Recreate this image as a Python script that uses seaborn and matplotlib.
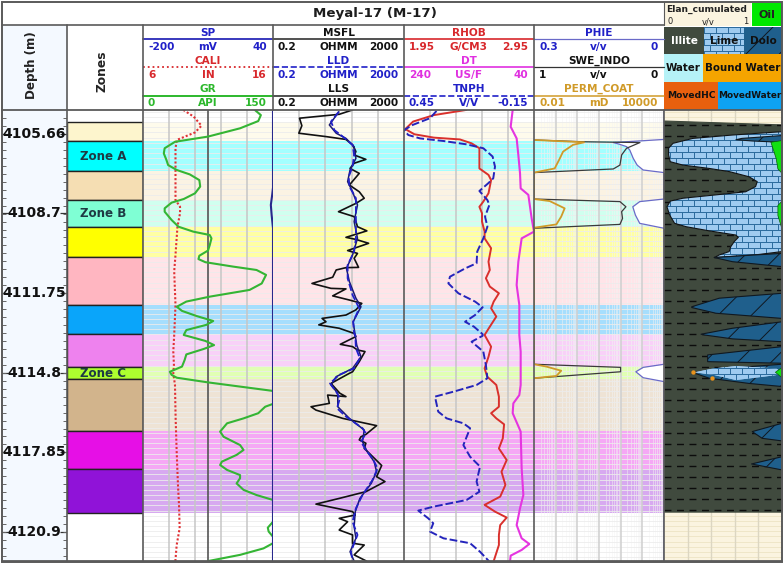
import numpy as np
import matplotlib
matplotlib.use("Agg")
import matplotlib.pyplot as plt
from matplotlib.lines import Line2D
from matplotlib.patches import Rectangle
import seaborn as sns

# ---------- data ----------
ZONE_TOPS = [4105.20, 4105.93, 4107.09, 4108.21, 4109.25, 4110.41, 4112.26, 4113.38, 4114.66, 4115.12, 4117.13, 4118.59]
ZONE_BASES = [4105.93, 4107.09, 4108.21, 4109.25, 4110.41, 4112.26, 4113.38, 4114.66, 4115.12, 4117.13, 4118.59, 4120.29]
ZONE_COLORS = ["#fdf5cd", "#00ffff", "#f5deb3", "#7fffd4", "#ffff00", "#ffb6c1", "#0aa5fa", "#ee82ee",
               "#adff2f", "#d2b48c", "#e60fe6", "#9013d8"]
ZONE_NAMES = ["", "Zone A", "", "Zone B", "", "", "", "", "Zone C", "", "", ""]
DEPTH_TICKS = [4105.66, 4108.7, 4111.75, 4114.8, 4117.85, 4120.9]
DEPTH_LABELS = ["4105.66", "4108.7", "4111.75", "4114.8", "4117.85", "4120.9"]

gr_d = [4104.73,4104.93,4105.16,4105.44,4105.76,4105.96,4106.21,4106.41,4106.66,4106.86,4107.05,4107.22,4107.44,4107.69,4107.95,4108.17,4108.31,4108.53,4108.66,4108.98,4109.24,4109.43,4109.56,4109.69,4109.95,4110.16,4110.36,4110.49,4110.61,4110.78,4110.91,4111.10,4111.43,4111.68,4111.94,4112.13,4112.33,4112.49,4112.69,4112.88,4113.03,4113.23,4113.42,4113.65,4113.81,4113.96,4114.17,4114.39,4114.64,4114.84,4114.96,4115.07,4115.25,4115.58,4115.84,4116.08,4116.19,4116.44,4116.64,4116.83,4117.15,4117.35,4117.67,4117.86,4118.05,4118.31,4118.44,4118.63,4118.83,4118.95,4119.15,4119.40,4119.60,4119.79,4120.18,4120.63,4120.86,4121.01,4121.21,4121.33,4121.46,4121.66,4121.91,4122.15]
gr_v = [129,136,133,112,75,37,25,24,27,29,39,54,65,66,60,47,33,25,25,33,41,58,77,79,77,75,65,64,72,104,131,142,137,123,77,50,39,45,62,81,73,50,47,72,82,70,50,48,45,31,33,39,75,150,165,150,141,133,116,97,89,93,112,116,108,91,89,97,112,112,108,116,131,150,175,150,144,145,150,175,150,139,112,75]
sp_d = [4104.73,4107.73,4108.01,4108.40,4108.79,4109.30,4122.15]
sp_v = [40,40,38.5,36,37.5,40,40]
cali_d = [4104.73,4104.99,4105.34,4105.60,4105.89,4106.21,4107.11,4108.21,4108.47,4108.72,4109.24,4110.33,4110.97,4112.26,4113.42,4114.06,4114.58,4114.90,4115.35,4116.64,4117.92,4118.57,4119.21,4119.98,4120.88,4121.53,4122.15]
cali_v = [9.1,9.9,10.5,10.0,8.6,8.5,8.5,8.5,8.85,8.85,8.65,8.5,8.4,8.5,8.4,8.33,8.38,8.33,8.46,8.51,8.59,8.64,8.69,8.77,8.82,8.59,8.49]

msfl_d = [4104.73,4104.90,4105.05,4105.34,4105.63,4105.76,4105.87,4106.08,4106.34,4106.47,4106.64,4106.79,4106.99,4107.18,4107.63,4107.89,4108.14,4108.34,4108.40,4108.66,4108.85,4109.04,4109.24,4109.40,4109.65,4109.73,4109.88,4110.16,4110.27,4110.46,4110.81,4110.82,4110.91,4111.19,4111.43,4111.62,4111.64,4111.91,4112.07,4112.20,4112.45,4112.65,4112.78,4112.91,4113.03,4113.16,4113.36,
          4113.48,4113.78,4113.87,4114.00,4114.06,4114.45,4114.84,4114.90,4115.29,4115.67,4115.80,4115.74,4116.06,4116.19,4116.32,4116.64,4116.92,4117.26,4117.35,4117.47,4117.60,4117.80,4117.99,4118.46,4118.89,4119.08,4119.47,4119.73,4119.95,4120.24,4120.37,4120.50,4120.63,4120.95,4121.14,4121.46,4121.53,4121.91,4122.15]
msfl_v = [53.8,21,1.29,1.52,1.23,8.3,33.8,53.8,68,60,137,60,45,86,43,86,122,68,53.8,20,60,68,76,147,33.8,68,166,38,76,60,82,33.8,17,13.3,3.1,11.8,33.8,13.3,43,103,68,33.8,6.3,8.3,5.0,21,60,
          68,22.7,53.8,76,129,86,53.8,43,11.8,22,33.8,9.3,10.5,2.9,4.1,27,291,137,97,86,137,122,175,416,291,525,137,21,4.1,53.8,65,21,38,21,53.8,53.8,122,60,143]
lld_d = [4104.80,4105.18,4105.51,4105.76,4106.08,4106.47,4106.92,4107.31,4107.69,4108.14,4108.92,4109.69,4110.20,4110.72,4111.23,4111.88,4112.39,4112.91,4113.36,
         4113.42,4113.93,4114.32,4114.71,4114.96,4115.29,4115.61,4115.87,4116.25,4116.57,4117.02,4117.22,4117.54,4117.86,4118.18,4118.57,4119.02,4119.60,4120.11,4120.63,4121.14,4121.79,4122.15]
lld_v = [20.5,11.8,15,27,53.8,60,53.8,41,43,68,68,68,60,38,38,53.8,86,56,60,
         65,68,90,60,21,11,17,22,18,33.8,108,137,97,137,218,313,218,108,68,53.8,76,48,53.8]
lls_d = [4104.80,4105.31,4105.63,4105.83,4106.15,4106.60,4107.05,4107.50,4107.89,4108.40,4109.04,4109.69,4110.33,4110.85,4111.36,4112.00,4112.33,4112.91,
         4113.81,4114.26,4114.71,4115.03,4115.35,4115.67,4116.19,4116.64,4117.09,4117.54,4117.92,4118.31,4118.70,4119.15,4119.73,4120.24,4120.82,4121.27,4121.79,4122.15]
lls_v = [20.5,10.5,17,33.8,60,68,45,38,53.8,76,60,76,53.8,35,43,68,97,56,
         72,97,53.8,17,11.8,19,19,43,122,108,150,245,291,200,90,65,60,68,45,60]

rhob_d = [4104.73,4104.93,4105.18,4105.47,4105.67,4105.80,4105.87,4106.02,4106.21,4106.66,4106.99,4107.24,4107.44,4107.95,4108.27,4108.47,4108.72,4109.04,4109.43,4109.69,4110.07,4110.59,4110.91,4111.23,4111.55,4111.81,4112.13,4112.39,4112.71,4113.10,4113.42,4113.87,4114.26,4114.71,4115.03,4115.35,4115.80,4116.19,4116.44,4116.64,4116.87,4117.41,4117.80,4118.25,4118.70,4119.21,4119.66,4119.98,4120.24,4120.47,4120.76,4121.14,4121.53,4122.15]
rhob_v = [2.43,2.18,2.02,1.96,2.03,2.18,2.38,2.47,2.53,2.53,2.53,2.60,2.62,2.60,2.56,2.53,2.55,2.55,2.57,2.57,2.62,2.60,2.61,2.58,2.61,2.68,2.64,2.62,2.66,2.61,2.57,2.62,2.60,2.57,2.59,2.66,2.68,2.68,2.62,2.66,2.72,2.71,2.68,2.74,2.70,2.73,2.69,2.57,2.65,2.74,2.69,2.68,2.68,2.64]
tnph_d = [4104.77,4105.05,4105.31,4105.51,4105.70,4105.83,4105.93,4106.06,4106.21,4106.53,4106.92,4107.37,4107.56,4107.86,4108.21,4108.40,4108.85,4109.24,4109.69,4110.20,4110.65,4110.85,4111.17,4111.43,4111.81,4112.13,4112.35,4112.65,4112.91,4113.10,4113.39,
          4113.45,4113.68,4114.06,4114.58,4115.09,4115.35,4115.61,4115.80,4116.38,4116.64,4116.83,4117.02,4117.67,4118.12,4118.50,4119.08,4119.47,4119.79,4120.05,4120.20,4120.50,4120.69,4121.01,4121.27,4121.46,4121.79,4122.17]
tnph_v = [.30,.33,.41,.45,.43,.376,.268,.161,.084,.041,.03,.038,.061,.102,.065,.056,.076,.065,.084,.112,.115,.168,.238,.245,.199,.122,.087,.122,.168,.127,.087,
          .087,.138,.084,.072,.065,.115,.222,.307,.292,.253,.176,.145,.176,.145,.099,.115,.102,.161,.315,.384,.338,.315,.33,.268,.145,.099,.056]
dt_d = [4104.73,4105.38,4105.83,4106.47,4107.18,4107.76,4108.01,4108.92,4109.43,4109.69,4110.59,4111.49,4112.26,4113.42,4114.06,4115.35,4115.74,4116.06,4116.44,4117.15,4118.57,4119.60,4120.11,4120.76,4121.27,4121.49,4121.72,4121.94,4122.17]
dt_v = [72.8,75.9,66.7,64.1,61.5,60.5,48.7,43.6,40,59,64.1,66.7,62.6,62.6,60.5,60.5,62.6,71.8,72.8,60.5,59,56.4,61.5,66.7,59,47.2,59,75.9,76.9]

phie_d = [4104.73,4105.87,4105.99,4106.06,4106.15,4106.28,4106.60,4106.86,4107.05,4107.15,4108.17,4108.27,4108.47,4108.79,4109.11,4109.30,4114.55,4114.67,4114.84,4115.07,4115.22,4122.15]
phie_v = [0,0,.117,.102,.086,.079,.071,.062,.048,0,0,.056,.072,.066,.056,0,0,.048,.065,.048,0,0]
swe_d = [4105.89,4105.96,4105.99,4106.21,4106.47,4106.86,4107.01,4107.15,4108.17,4108.27,4108.47,4108.66,4108.92,4109.15,4109.30,4114.55,4114.67,4114.84,4115.09]
swe_v = [1,.62,.185,.288,.326,.339,.39,1,1,.339,.293,.326,.319,.339,1,1,.334,.334,1]
perm_d = [4105.89,4105.98,4106.08,4106.34,4106.66,4106.99,4107.15,4108.17,4108.25,4108.53,4108.85,4109.15,4109.28,4114.55,4114.64,4114.80,4115.00,4115.09]
perm_v = [.01,2.05,.63,.22,.144,.09,.01,.01,.053,.26,.18,.108,.01,.01,.037,.18,.108,.01]

rock_top_x = [0, 1]
rock_top_d = [4105.14, 4105.29]
rock_base_d = 4120.24
lime_d = [4105.57,4105.70,4105.83,4106.02,4106.21,4106.47,4106.73,4106.86,4106.99,4107.11,4107.31,4107.50,4107.69,4107.89,4108.01,4108.14,4108.25,4108.47,4108.79,4109.11,4109.24,4109.40,4109.56,4109.65,4109.82,4110.01,4110.20,4110.33,4110.43]
lime_l = [1,.58,.244,.076,.039,.039,.053,.16,.384,.552,.72,.79,.776,.692,.44,.16,.053,.025,.048,.09,.188,.384,.608,.63,.594,.566,.552,.468,.426]
lime_r = [1]*27 + [.77,.426]
lime2_d = [4114.62,4114.71,4114.86,4114.97,4115.16]
lime2_l = [.61,.42,.26,.43,.61]
lime2_r = [.61,.95,1,.95,.61]
dolo_lenses = [
    ([4105.72,4105.83,4105.88,4105.93,4105.98], [1,.66,.61,.75,1]),
    ([4110.27,4110.33,4110.43,4110.59,4110.78], [1,.77,.426,.58,1]),
    ([4111.81,4112.00,4112.33,4112.36,4112.58,4112.78], [1,.468,.235,.235,.44,1]),
    ([4112.91,4113.16,4113.39,4113.42,4113.57,4113.68], [1,.58,.314,.342,.58,1]),
    ([4113.87,4114.19,4114.45,4114.51], [1,.37,.37,1]),
    ([4114.55,4114.71,4114.87,4115.09,4115.29,4115.41], [1,.52,.244,.384,.72,1]),
    ([4116.83,4117.15,4117.41,4117.51], [1,.748,.832,1]),
    ([4118.12,4118.40,4118.63], [1,.742,1]),
]
oil_lenses = [
    ([4105.89,4105.96,4106.60,4106.99,4107.18], [1,.902,.947,.961,1]),
    ([4108.21,4108.40,4108.79,4109.37], [1,.961,.961,1]),
    ([4114.64,4114.84,4115.07], [1,.94,1]),
]
hc_d = [4114.86, 4115.09]
hc_v = [.245, .41]

# ---------- layout helpers ----------
W, H = 784, 564
sns.set_theme(style="white")
plt.rcParams["font.family"] = ["DejaVu Sans"]
plt.rcParams["hatch.linewidth"] = 0.7
fig = plt.figure(figsize=(W/100, H/100), dpi=100, facecolor="white")

TOP, BOT = 110, 561
Y_SCALE = 25.9
YLIM = (4105.66 + (BOT-134)/Y_SCALE, 4105.66 + (TOP-134)/Y_SCALE)
TRK = [143, 273, 404, 534, 664, 782]
BORDER = "#5a5a5a"

def make_ax(x0, y0, x1, y1, z=1, transparent=True):
    ax = fig.add_axes([x0/W, 1-y1/H, (x1-x0)/W, (y1-y0)/H], zorder=z)
    ax.patch.set_visible(not transparent)
    ax.set_xticks([]); ax.set_yticks([])
    ax.set_xlabel(""); ax.set_ylabel("")
    for s in ax.spines.values():
        s.set_visible(False)
    return ax

def curve(ax, d, v, color, lw=1.4, ls="-", xlim=None, log=False):
    sns.lineplot(x=v, y=d, ax=ax, orient="y", sort=False, estimator=None, color=color,
                 linewidth=lw, linestyle=ls, legend=False, solid_joinstyle="round")
    if log:
        ax.set_xscale("log")
    ax.set_xlim(*xlim); ax.set_ylim(*YLIM)
    ax.set_xticks([]); ax.set_yticks([]); ax.minorticks_off()
    ax.set_xlabel(""); ax.set_ylabel("")

def px(x, y):
    return x/W, 1-y/H

def line(x0, x1, y0, y1, color, lw=1.0, ls="-"):
    a, b = px(x0, y0); c, d = px(x1, y1)
    fig.add_artist(Line2D([a, c], [b, d], color=color, lw=lw, ls=ls, zorder=20))

def txt(x, y, s, color="black", size=7.6, ha="center", weight="bold", rot=0):
    a, b = px(x, y)
    fig.text(a, b, s, color=color, fontsize=size, ha=ha, va="center", fontweight=weight, rotation=rot, zorder=25)

hgrid = np.arange(4104.8, 4122.2, 0.2)

def track_base(x0, x1, logx=False):
    ax = make_ax(x0, TOP, x1, BOT, z=1, transparent=False)
    ax.set_facecolor("white")
    ax.hlines(hgrid, 0, 1, transform=ax.get_yaxis_transform(), color="#ececec", lw=0.6, zorder=3)
    for t, b, c in zip(ZONE_TOPS, ZONE_BASES, ZONE_COLORS):
        ax.axhspan(t, b, color=c, alpha=0.36, lw=0, zorder=1)
    if logx:
        ax.set_xscale("log")
        ax.set_xlim(0.01, 10000)
        for k in range(6):
            base = 0.01 * 10**k
            ax.vlines(base*np.arange(2, 10), *YLIM, color="#f4f4f4", lw=0.5, alpha=0.7, zorder=2)
            if k:
                ax.axvline(base, color="#cfcfcf", lw=1.1, zorder=4)
    else:
        ax.set_xlim(0, 5)
        for k in range(1, 5):
            ax.axvline(k, color="#c6c6c6", lw=1.1, zorder=4)
    ax.set_ylim(*YLIM)
    ax.set_xticks([]); ax.set_yticks([]); ax.minorticks_off()
    return ax

# ---------- depth + zones ----------
ax_dep = make_ax(2, TOP, 67, BOT, z=1, transparent=False)
ax_dep.set_facecolor("#f4f9ff")
ax_dep.set_xlim(0, 1)
ax_dep.set_ylim(4105.66 + (BOT-134)/26.1, 4105.66 + (TOP-134)/26.1)
ax_dep.yaxis.set_ticks_position("both")
ax_dep.set_yticks(DEPTH_TICKS)
ax_dep.set_yticklabels([])
ax_dep.tick_params(axis="y", which="major", direction="in", length=5, width=0.9, color="#333333")
ax_dep.set_yticks(np.arange(4105.66-0.61, 4122, 0.305), minor=True)
ax_dep.tick_params(axis="y", which="minor", direction="in", length=3, width=0.7, color="#666666", left=True, right=True)
for t, l in zip(DEPTH_TICKS, DEPTH_LABELS):
    ax_dep.text(0.5, t, l, ha="center", va="center", fontsize=10, fontweight="bold", color="#111111")

ax_z = make_ax(67, TOP, 143, BOT, z=1, transparent=False)
ax_z.set_facecolor("white")
ax_z.set_xlim(0, 1); ax_z.set_ylim(*YLIM)
for t, b, c, n in zip(ZONE_TOPS, ZONE_BASES, ZONE_COLORS, ZONE_NAMES):
    ax_z.barh((t+b)/2, 1, height=b-t, left=0, color=c, edgecolor="#222222", linewidth=1.0)
    if n:
        ax_z.text(0.48, (t+b)/2, n, ha="center", va="center", fontsize=8.6, fontweight="bold", color="#1e3a44")
ax_z.set_xticks([]); ax_z.set_yticks([])

# ---------- track 1 : SP / CALI / GR ----------
b1 = track_base(TRK[0], TRK[1])
b1.axvline(2.5, color="#555555", lw=1.2, zorder=4)
a = make_ax(TRK[0], TOP, TRK[1], BOT, z=3); curve(a, cali_d, cali_v, "#e03034", 1.5, (0, (1, 1)), (6, 16))
a = make_ax(TRK[0], TOP, TRK[1], BOT, z=3); curve(a, gr_d, gr_v, "#34b534", 1.5, "-", (0, 150))
a = make_ax(TRK[0], TOP, TRK[1], BOT, z=4); curve(a, sp_d, sp_v, "#28288c", 1.5, "-", (-200, 40))

# ---------- track 2 : resistivity ----------
track_base(TRK[1], TRK[2])
a = make_ax(TRK[1], TOP, TRK[2], BOT, z=3); curve(a, msfl_d, msfl_v, "#111111", 1.2, "-", (0.2, 2000), True)
a = make_ax(TRK[1], TOP, TRK[2], BOT, z=3); curve(a, lls_d, lls_v, "#1a1a70", 1.1, "-", (0.2, 2000), True)
a = make_ax(TRK[1], TOP, TRK[2], BOT, z=3); curve(a, lld_d, lld_v, "#2020c8", 1.3, (0, (4, 1.5)), (0.2, 2000), True)

# ---------- track 3 : porosity ----------
track_base(TRK[2], TRK[3])
a = make_ax(TRK[2], TOP, TRK[3], BOT, z=3); curve(a, dt_d, dt_v, "#e535e0", 1.5, "-", (240, 40))
a = make_ax(TRK[2], TOP, TRK[3], BOT, z=3); curve(a, rhob_d, rhob_v, "#d9302c", 1.4, "-", (1.95, 2.95))
a = make_ax(TRK[2], TOP, TRK[3], BOT, z=3); curve(a, tnph_d, tnph_v, "#2424bc", 1.4, (0, (4, 1.5)), (0.45, -0.15))

# ---------- track 4 : PHIE / SWE / PERM ----------
track_base(TRK[3], TRK[4], logx=True)
a = make_ax(TRK[3], TOP, TRK[4], BOT, z=3)
a.fill_betweenx(phie_d, phie_v, 0, color="white", lw=0)
curve(a, phie_d, phie_v, "#6a6ac8", 0.9, "-", (0.3, 0))
a = make_ax(TRK[3], TOP, TRK[4], BOT, z=3); curve(a, swe_d, swe_v, "#3a3a3a", 0.9, "-", (1, 0))
a = make_ax(TRK[3], TOP, TRK[4], BOT, z=3); curve(a, perm_d, perm_v, "#cf9a28", 1.3, "-", (0.01, 10000), True)

# ---------- track 5 : Elan ----------
ax_e = make_ax(TRK[4], TOP, TRK[5], BOT, z=1, transparent=False)
ax_e.set_facecolor("#fbf4e0")
ax_e.set_xlim(0, 1); ax_e.set_ylim(*YLIM)
ax_e.hlines(hgrid, 0, 1, color="#efe6c8", lw=0.7, zorder=1)
ax_e.vlines(np.arange(1, 5)/5, *YLIM, color="#dcd6c2", lw=1.0, zorder=1)
ILLITE = "#404a3e"; LIME = "#9fcbf0"; DOLO = "#1f5f8c"; MORTAR = "#2d6c9e"
ax_e.fill_between(rock_top_x, rock_top_d, rock_base_d, color=ILLITE, lw=0.8, zorder=2)
ax_e.hlines(np.arange(4105.32, 4120.2, 0.4247), 0, 1, color="#0c0c0c", lw=1.0, ls=(0, (5, 4)), zorder=3)

def bricks(w, h):
    yy, xx = np.mgrid[0:h, 0:w]
    row = yy // 6
    mortar = (yy % 6 == 0) | ((xx + (row % 2) * 6) % 12 == 0)
    img = np.zeros((h, w, 3))
    img[...] = matplotlib.colors.to_rgb(LIME)
    img[mortar] = matplotlib.colors.to_rgb(MORTAR)
    return img

def lime_patch(ax, d, left, right):
    poly = ax.fill_betweenx(d, left, right, facecolor=LIME, edgecolor="none", zorder=4)
    im = ax.imshow(bricks(118, 451), extent=[0, 1, YLIM[0], YLIM[1]], aspect="auto", interpolation="nearest", zorder=5)
    im.set_clip_path(poly.get_paths()[0], ax.transData)
    ax.fill_betweenx(d, left, right, facecolor="none", edgecolor="#111111", lw=0.8, zorder=6)
    ax.set_xlim(0, 1); ax.set_ylim(*YLIM)

lime_patch(ax_e, lime_d, lime_l, lime_r)
for d, v in dolo_lenses:
    ax_e.fill_betweenx(d, v, 1, facecolor=DOLO, edgecolor="#101820", hatch="/", lw=0.8, zorder=7)
lime2_poly = ax_e.fill_betweenx(lime2_d, lime2_l, lime2_r, facecolor=LIME, edgecolor="none", zorder=8)
im2 = ax_e.imshow(bricks(118, 451), extent=[0, 1, YLIM[0], YLIM[1]], aspect="auto", interpolation="nearest", zorder=9)
im2.set_clip_path(lime2_poly.get_paths()[0], ax_e.transData)
ax_e.set_xlim(0, 1); ax_e.set_ylim(*YLIM)
for d, v in oil_lenses:
    ax_e.fill_betweenx(d, v, 1, facecolor="#12e012", edgecolor="#0a5a0a", lw=0.5, zorder=10)
sns.scatterplot(x=hc_v, y=hc_d, ax=ax_e, color="#e8921c", s=10, linewidth=0, zorder=10, legend=False)
ax_e.set_xlabel(""); ax_e.set_ylabel(""); ax_e.set_xticks([]); ax_e.set_yticks([])

# ---------- headers ----------
hdr = make_ax(2, 25, 67, TOP, z=1, transparent=False); hdr.set_facecolor("#f4f9ff")
txt(32, 65, "Depth (m)", size=8.6, rot=90, color="#222222")
txt(102, 71, "Zones", size=8.8, rot=90, color="#222222")
txt(375, 14, "Meyal-17 (M-17)", size=9.6, color="#1c1c1c")

BLUE, RED, GREEN, MAG, ORG = "#2020c8", "#d8282c", "#2cb82c", "#e030e0", "#d09a28"
rows = [(33, 47, 39), (61, 75, 67), (89, 103, 96)]
headers = [
    (0, [("SP", "mV", "-200", "40", BLUE, "-", "#2a2ab8", 1.3), ("CALI", "IN", "6", "16", RED, ":", RED, 1.3), ("GR", "API", "0", "150", GREEN, "-", GREEN, 1.4)]),
    (1, [("MSFL", "OHMM", "0.2", "2000", "#111111", "-", "#333333", 1.2), ("LLD", "OHMM", "0.2", "2000", BLUE, "--", BLUE, 1.2), ("LLS", "OHMM", "0.2", "2000", "#111111", "-", "#333333", 1.2)]),
    (2, [("RHOB", "G/CM3", "1.95", "2.95", RED, "-", RED, 1.2), ("DT", "US/F", "240", "40", MAG, "-", MAG, 1.2), ("TNPH", "V/V", "0.45", "-0.15", BLUE, "--", BLUE, 1.2)]),
    (3, [("PHIE", "v/v", "0.3", "0", BLUE, "-", "#6a6ac8", 0.9), ("SWE_INDO", "v/v", "1", "0", "#111111", "-", "#333333", 0.9), ("PERM_COAT", "mD", "0.01", "10000", ORG, "-", ORG, 1.1)]),
]
for idx, items in headers:
    x0, x1 = TRK[idx], TRK[idx+1]
    xc = (x0 + x1) / 2
    for (name, unit, lo, hi, col, ls, lcol, lw), (y1, y2, yl) in zip(items, rows):
        txt(xc, y1, name, color=col)
        txt(xc, y2, unit, color=col)
        txt(x0+5, y2, lo, color=col, ha="left")
        txt(x1-6, y2, hi, color=col, ha="right")
        line(x0, x1, yl, yl, lcol, lw, ls)

def cell(x0, y0, x1, y1, color, text, tcolor="black", size=7.4):
    fig.add_artist(Rectangle((x0/W, 1-y1/H), (x1-x0)/W, (y1-y0)/H, transform=fig.transFigure, facecolor=color, edgecolor="none", zorder=15))
    if text:
        txt((x0+x1)/2, (y0+y1)/2, text, color=tcolor, size=size)

cell(664, 3, 751, 26, "#fbf4e0", "")
txt(707, 9, "Elan_cumulated", size=6.6, color="#222222")
txt(670, 22, "0", size=6, weight="normal", color="#222222")
txt(708, 22, "v/v", size=6, weight="normal", color="#222222")
txt(746, 22, "1", size=6, weight="normal", color="#222222")
cell(752, 3, 782, 26, "#00e800", "Oil", "#222222", 8)
cell(664, 27, 704, 54, ILLITE, "Illite", "white", 7.6)
ax_l = make_ax(704, 27, 744, 54, z=16, transparent=False)
ax_l.imshow(bricks(40, 27), aspect="auto", interpolation="nearest")
ax_l.set_xticks([]); ax_l.set_yticks([])
fig.add_artist(Rectangle((744/W, 1-54/H), 38/W, 27/H, transform=fig.transFigure, facecolor=DOLO, edgecolor="#101820", hatch="/", lw=0, zorder=15))
txt(724, 41, "Lime", size=7.6, color="#111111")
txt(763, 41, "Dolo", size=7.6, color="#111111")
cell(664, 54, 703, 82, "#b5f2f7", "Water", "#111111", 7.4)
cell(703, 54, 782, 82, "#f5a400", "Bound Water", "#111111", 7.4)
cell(664, 82, 718, 110, "#e8600e", "MovedHC", "#111111", 6.6)
cell(718, 82, 782, 110, "#0ea2f2", "MovedWater", "#111111", 6.4)

# frame and separators
for x in [67, 143, 404, 534, 664]:
    line(x, x, 25 if x < 664 else TOP, BOT, BORDER, 1.2)
line(273, 273, 25, TOP, BORDER, 1.2)
line(664, 664, 2, 25, BORDER, 0.8)
line(2, 664, 25, 25, BORDER, 1.2)
line(2, 782, TOP, TOP, BORDER, 1.3)
line(2, 782, BOT, BOT, BORDER, 1.3)
fig.add_artist(Rectangle((2/W, 1-562/H), 780/W, 560/H, transform=fig.transFigure, facecolor="none", edgecolor=BORDER, lw=1.4, zorder=21))

fig.savefig("out.png", dpi=100)
